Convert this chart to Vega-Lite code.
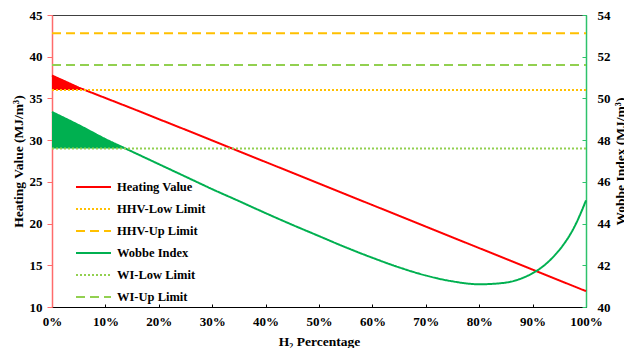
{
  "$schema": "https://vega.github.io/schema/vega-lite/v6.json",
  "width": 534,
  "height": 292,
  "autosize": {"type": "none"},
  "padding": {"left": 52, "top": 15, "right": 38, "bottom": 41},
  "background": "white",
  "datasets": {
    "heating": [
      {"h2": 0.00, "series": "Heating Value", "value": 37.75},
      {"h2": 0.05, "series": "Heating Value", "value": 36.30},
      {"h2": 0.10, "series": "Heating Value", "value": 35.05},
      {"h2": 0.15, "series": "Heating Value", "value": 33.80},
      {"h2": 0.20, "series": "Heating Value", "value": 32.52},
      {"h2": 0.25, "series": "Heating Value", "value": 31.25},
      {"h2": 0.30, "series": "Heating Value", "value": 29.96},
      {"h2": 0.35, "series": "Heating Value", "value": 28.67},
      {"h2": 0.40, "series": "Heating Value", "value": 27.38},
      {"h2": 0.45, "series": "Heating Value", "value": 26.09},
      {"h2": 0.50, "series": "Heating Value", "value": 24.80},
      {"h2": 0.55, "series": "Heating Value", "value": 23.51},
      {"h2": 0.60, "series": "Heating Value", "value": 22.22},
      {"h2": 0.65, "series": "Heating Value", "value": 20.93},
      {"h2": 0.70, "series": "Heating Value", "value": 19.64},
      {"h2": 0.75, "series": "Heating Value", "value": 18.35},
      {"h2": 0.80, "series": "Heating Value", "value": 17.06},
      {"h2": 0.85, "series": "Heating Value", "value": 15.77},
      {"h2": 0.90, "series": "Heating Value", "value": 14.48},
      {"h2": 0.95, "series": "Heating Value", "value": 13.19},
      {"h2": 1.00, "series": "Heating Value", "value": 11.90},
      {"h2": 0, "series": "HHV-Low Limit", "value": 36.0},
      {"h2": 1, "series": "HHV-Low Limit", "value": 36.0},
      {"h2": 0, "series": "HHV-Up Limit", "value": 42.8},
      {"h2": 1, "series": "HHV-Up Limit", "value": 42.8}
    ],
    "wobbe": [
      {"h2": 0.00, "series": "Wobbe Index", "value": 49.35},
      {"h2": 0.05, "series": "Wobbe Index", "value": 48.72},
      {"h2": 0.10, "series": "Wobbe Index", "value": 48.05},
      {"h2": 0.15, "series": "Wobbe Index", "value": 47.45},
      {"h2": 0.20, "series": "Wobbe Index", "value": 46.85},
      {"h2": 0.25, "series": "Wobbe Index", "value": 46.25},
      {"h2": 0.30, "series": "Wobbe Index", "value": 45.65},
      {"h2": 0.35, "series": "Wobbe Index", "value": 45.08},
      {"h2": 0.40, "series": "Wobbe Index", "value": 44.50},
      {"h2": 0.45, "series": "Wobbe Index", "value": 43.94},
      {"h2": 0.50, "series": "Wobbe Index", "value": 43.40},
      {"h2": 0.55, "series": "Wobbe Index", "value": 42.86},
      {"h2": 0.60, "series": "Wobbe Index", "value": 42.36},
      {"h2": 0.65, "series": "Wobbe Index", "value": 41.90},
      {"h2": 0.70, "series": "Wobbe Index", "value": 41.51},
      {"h2": 0.75, "series": "Wobbe Index", "value": 41.23},
      {"h2": 0.80, "series": "Wobbe Index", "value": 41.09},
      {"h2": 0.85, "series": "Wobbe Index", "value": 41.17},
      {"h2": 0.88, "series": "Wobbe Index", "value": 41.38},
      {"h2": 0.90, "series": "Wobbe Index", "value": 41.62},
      {"h2": 0.92, "series": "Wobbe Index", "value": 41.96},
      {"h2": 0.94, "series": "Wobbe Index", "value": 42.44},
      {"h2": 0.96, "series": "Wobbe Index", "value": 43.07},
      {"h2": 0.97, "series": "Wobbe Index", "value": 43.46},
      {"h2": 0.98, "series": "Wobbe Index", "value": 43.93},
      {"h2": 0.99, "series": "Wobbe Index", "value": 44.49},
      {"h2": 1.00, "series": "Wobbe Index", "value": 45.11},
      {"h2": 0, "series": "WI-Low Limit", "value": 47.6},
      {"h2": 1, "series": "WI-Low Limit", "value": 47.6},
      {"h2": 0, "series": "WI-Up Limit", "value": 51.6},
      {"h2": 1, "series": "WI-Up Limit", "value": 51.6}
    ],
    "heatingExcess": [
      {"h2": 0.000, "top": 37.75, "base": 36.0},
      {"h2": 0.050, "top": 36.30, "base": 36.0},
      {"h2": 0.062, "top": 36.00, "base": 36.0}
    ],
    "wobbeExcess": [
      {"h2": 0.000, "top": 49.35, "base": 47.6},
      {"h2": 0.050, "top": 48.72, "base": 47.6},
      {"h2": 0.100, "top": 48.05, "base": 47.6},
      {"h2": 0.1375, "top": 47.60, "base": 47.6}
    ]
  },
  "config": {
    "font": "Liberation Serif",
    "view": {"stroke": "#404040", "strokeWidth": 1},
    "axis": {
      "grid": false,
      "labelFlush": false,
      "labelFont": "Liberation Serif",
      "labelFontWeight": "bold",
      "labelFontSize": 13,
      "labelColor": "black",
      "titleFont": "Liberation Serif",
      "titleFontWeight": "bold",
      "titleFontSize": 13.5,
      "titleColor": "black"
    },
    "legend": {
      "orient": "none",
      "legendX": 26.5,
      "legendY": 157,
      "symbolType": "M-1.25,0H1.25",
      "symbolSize": 784,
      "symbolStrokeWidth": 2,
      "labelFont": "Liberation Serif",
      "labelFontWeight": "bold",
      "labelFontSize": 12.5,
      "labelColor": "black",
      "labelOffset": 8.5,
      "rowPadding": 0,
      "padding": 0
    }
  },
  "encoding": {
    "x": {
      "field": "h2",
      "type": "quantitative",
      "scale": {"domain": [0, 1], "nice": false},
      "axis": {
        "title": "H₂ Percentage",
        "format": ".0%",
        "values": [0, 0.1, 0.2, 0.3, 0.4, 0.5, 0.6, 0.7, 0.8, 0.9, 1],
        "domainColor": "black",
        "tickColor": "black",
        "tickSize": -3,
        "labelPadding": 11,
        "titlePadding": 6
      }
    }
  },
  "layer": [
    {
      "layer": [
        {
          "data": {"name": "heatingExcess"},
          "mark": {"type": "area", "color": "#FF0000", "opacity": 1},
          "encoding": {
            "y": {"field": "top", "type": "quantitative", "title": "Heating Value (MJ/m³)"},
            "y2": {"field": "base"}
          }
        },
        {
          "data": {"name": "heating"},
          "mark": {"type": "line", "strokeWidth": 2},
          "encoding": {
            "y": {
              "field": "value",
              "type": "quantitative",
              "title": "Heating Value (MJ/m³)",
              "scale": {"domain": [10, 45], "nice": false, "zero": false},
              "axis": {
                "values": [10, 15, 20, 25, 30, 35, 40, 45],
                "domainColor": "#FF6B6B",
                "domainWidth": 1.5,
                "tickColor": "#FF6B6B",
                "tickSize": 5,
                "labelPadding": 5,
                "titlePadding": 4
              }
            },
            "color": {
              "field": "series",
              "type": "nominal",
              "scale": {
                "domain": ["Heating Value", "HHV-Low Limit", "HHV-Up Limit", "Wobbe Index", "WI-Low Limit", "WI-Up Limit"],
                "range": ["#FF0000", "#FFC000", "#FFC000", "#00B050", "#92D050", "#92D050"]
              },
              "legend": {"title": null}
            },
            "strokeDash": {
              "field": "series",
              "type": "nominal",
              "scale": {
                "domain": ["Heating Value", "HHV-Low Limit", "HHV-Up Limit", "Wobbe Index", "WI-Low Limit", "WI-Up Limit"],
                "range": [[1, 0], [2, 2], [9, 5], [1, 0], [2, 2], [9, 5]]
              },
              "legend": {"title": null}
            }
          }
        }
      ]
    },
    {
      "layer": [
        {
          "data": {"name": "wobbeExcess"},
          "mark": {"type": "area", "color": "#00B050", "opacity": 1},
          "encoding": {
            "y": {"field": "top", "type": "quantitative", "title": "Wobbe Index (MJ/m³)"},
            "y2": {"field": "base"}
          }
        },
        {
          "data": {"name": "wobbe"},
          "mark": {"type": "line", "strokeWidth": 2, "interpolate": "monotone"},
          "encoding": {
            "y": {
              "field": "value",
              "type": "quantitative",
              "title": "Wobbe Index (MJ/m³)",
              "scale": {"domain": [40, 54], "nice": false, "zero": false},
              "axis": {
                "values": [40, 42, 44, 46, 48, 50, 52, 54],
                "domainColor": "#2DC26B",
                "domainWidth": 1.5,
                "tickColor": "#2DC26B",
                "tickSize": -4,
                "labelPadding": 15,
                "titleAngle": -90,
                "titlePadding": 17
              }
            },
            "color": {"field": "series", "type": "nominal", "legend": {"title": null}},
            "strokeDash": {"field": "series", "type": "nominal", "legend": {"title": null}}
          }
        }
      ]
    }
  ],
  "resolve": {"scale": {"y": "independent"}}
}
